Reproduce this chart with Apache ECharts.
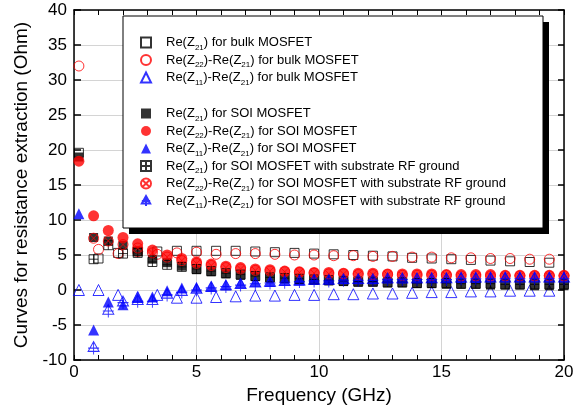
<!DOCTYPE html>
<html>
<head>
<meta charset="utf-8">
<script src="https://cdn.jsdelivr.net/npm/echarts@6/dist/echarts.min.js"></script>
<style>
  html, body { margin: 0; padding: 0; background: #fff; }
  #chart { width: 584px; height: 410px; }
</style>
</head>
<body>
<div id="chart"></div>
<script>
// frequencies (GHz)
const freqBulk = [0.2, 1.0, 1.8, 2.6, 3.4, 4.2, 5.0, 5.8, 6.6, 7.4, 8.2, 9.0, 9.8, 10.6, 11.4, 12.2, 13.0, 13.8, 14.6, 15.4, 16.2, 17.0, 17.8, 18.6, 19.4];
const freqSoi = [0.2, 0.8, 1.4, 2.0, 2.6, 3.2, 3.8, 4.4, 5.0, 5.6, 6.2, 6.8, 7.4, 8.0, 8.6, 9.2, 9.8, 10.4, 11.0, 11.6, 12.2, 12.8, 13.4, 14.0, 14.6, 15.2, 15.8, 16.4, 17.0, 17.6, 18.2, 18.8, 19.4, 20.0];
const freqRf = [0.8, 1.4, 2.0, 2.6, 3.2, 3.8, 4.4, 5.0, 5.6, 6.2, 6.8, 7.4, 8.0, 8.6, 9.2, 9.8, 10.4, 11.0, 11.6, 12.2, 12.8, 13.4, 14.0, 14.6, 15.2, 15.8, 16.4, 17.0, 17.6, 18.2, 18.8, 19.4, 20.0];

// bulk MOSFET (Ohm)
const bulkZ21 = [19.6, 4.5, 5.3, 5.5, 5.5, 5.6, 5.6, 5.6, 5.6, 5.5, 5.4, 5.3, 5.2, 5.1, 5.0, 4.9, 4.8, 4.6, 4.5, 4.4, 4.3, 4.2, 4.1, 4.0, 3.9];
const bulkZ22 = [32.0, 5.8, 5.2, 5.5, 5.1, 5.3, 5.4, 5.1, 5.2, 5.2, 5.1, 5.0, 5.0, 4.9, 4.9, 4.8, 4.8, 4.7, 4.7, 4.6, 4.6, 4.5, 4.5, 4.4, 4.4];
const bulkZ11 = [0.0, 0.0, -0.7, -1.0, -0.7, -1.1, -1.1, -1.0, -0.9, -0.8, -0.8, -0.7, -0.7, -0.6, -0.6, -0.5, -0.5, -0.4, -0.3, -0.3, -0.2, -0.2, -0.1, -0.1, -0.1];

// SOI MOSFET
const soiZ21 = [19.0, 7.5, 7.0, 6.4, 5.5, 4.4, 3.9, 3.4, 2.9, 2.6, 2.3, 2.1, 1.9, 1.7, 1.6, 1.5, 1.4, 1.3, 1.2, 1.1, 1.1, 1.0, 1.0, 0.9, 0.9, 0.8, 0.8, 0.8, 0.7, 0.7, 0.7, 0.6, 0.6, 0.6];
const soiZ22 = [18.4, 10.6, 8.5, 7.5, 6.6, 5.7, 5.0, 4.5, 4.0, 3.7, 3.4, 3.2, 3.0, 2.9, 2.7, 2.6, 2.5, 2.5, 2.4, 2.4, 2.4, 2.3, 2.3, 2.3, 2.3, 2.2, 2.2, 2.2, 2.2, 2.1, 2.1, 2.1, 2.1, 2.1];
const soiZ11 = [10.9, -5.7, -1.7, -2.1, -1.0, -1.0, -0.1, 0.3, 0.4, 0.5, 0.7, 1.0, 1.2, 1.2, 1.4, 1.4, 1.5, 1.5, 1.6, 1.6, 1.6, 1.7, 1.7, 1.7, 1.8, 1.8, 1.8, 1.8, 1.9, 1.9, 1.9, 1.9, 1.9, 1.9];

// SOI MOSFET with substrate RF ground
const rfZ21 = [4.4, 6.4, 5.2, 5.3, 4.0, 3.6, 3.3, 3.0, 2.7, 2.4, 2.2, 2.0, 1.8, 1.7, 1.6, 1.5, 1.4, 1.3, 1.2, 1.2, 1.1, 1.1, 1.0, 1.0, 1.0, 0.9, 0.9, 0.9, 0.8, 0.8, 0.8, 0.8, 0.8];
const rfZ22 = [7.4, 7.0, 6.5, 6.0, 5.3, 4.7, 4.2, 3.8, 3.5, 3.2, 3.0, 2.8, 2.7, 2.6, 2.5, 2.4, 2.3, 2.3, 2.2, 2.2, 2.2, 2.1, 2.1, 2.1, 2.1, 2.0, 2.0, 2.0, 2.0, 2.0, 2.0, 2.0, 2.0];
const rfZ11 = [-8.3, -3.0, -1.8, -1.6, -1.6, -0.7, -0.3, 0.0, 0.3, 0.5, 0.7, 0.9, 1.0, 1.1, 1.2, 1.3, 1.3, 1.4, 1.4, 1.4, 1.5, 1.5, 1.5, 1.5, 1.5, 1.6, 1.6, 1.6, 1.6, 1.6, 1.6, 1.6, 1.6];

const bulkNames = [
  'Re(Z_21) for bulk MOSFET',
  'Re(Z_22)-Re(Z_21) for bulk MOSFET',
  'Re(Z_11)-Re(Z_21) for bulk MOSFET'
];
const soiNames = [
  'Re(Z_21) for SOI MOSFET',
  'Re(Z_22)-Re(Z_21) for SOI MOSFET',
  'Re(Z_11)-Re(Z_21) for SOI MOSFET',
  'Re(Z_21) for SOI MOSFET with substrate RF ground',
  'Re(Z_22)-Re(Z_21) for SOI MOSFET with substrate RF ground',
  'Re(Z_11)-Re(Z_21) for SOI MOSFET with substrate RF ground'
];

const FONT = '"Liberation Sans", Arial, sans-serif';

// marker shapes with a cross inside
const plusSquare = 'path://M0,0H10V10H0Z M5,0V10 M0,5H10';
const crossCircle = 'path://M10,5A5,5,0,1,1,0,5A5,5,0,1,1,10,5Z M1.46,1.46L8.54,8.54 M8.54,1.46L1.46,8.54';
const plusTriangle = 'path://M5,0L10,9H0Z M5,0V12 M0,6H10';

const pairs = (xs, ys) => xs.map((x, i) => [x, ys[i]]);

function scatter(name, xs, ys, symbol, size, color, filled) {
  return {
    name,
    type: 'scatter',
    data: pairs(xs, ys),
    symbol,
    symbolSize: size,
    itemStyle: filled
      ? { color: color }
      : { color: 'rgba(0,0,0,0)', borderColor: color, borderWidth: 1 },
    emphasis: { disabled: true }
  };
}

const chart = echarts.init(document.getElementById('chart'));

// "Z_21" -> Z with subscript 21
const legendText = (name) =>
  '{p|}{a|' + name.replace(/_(\d+)/g, '}{s|$1}{a|') + '}';

const legendCommon = {
  orient: 'vertical',
  left: 140,
  padding: 0,
  itemGap: 2,
  itemWidth: 10,
  itemHeight: 10,
  z: 20,
  selectedMode: false,
  formatter: legendText,
  textStyle: {
    color: '#000',
    fontFamily: FONT,
    rich: {
      p: { width: 10 },
      a: { fontSize: 13, lineHeight: 18, fontFamily: FONT, color: '#000' },
      s: { fontSize: 8, lineHeight: 8, verticalAlign: 'bottom', fontFamily: FONT, color: '#000' }
    }
  }
};

const option = {
  animation: false,
  backgroundColor: '#fff',
  grid: { left: 74, right: 20, top: 10, bottom: 50 },
  graphic: [
    { type: 'rect', z: 15, shape: { x: 129, y: 22, width: 420, height: 212 }, style: { fill: '#000' } },
    { type: 'rect', z: 16, shape: { x: 123, y: 16, width: 420, height: 212 }, style: { fill: '#fff', stroke: '#000', lineWidth: 1 } }
  ],
  legend: [
    Object.assign({}, legendCommon, { top: 36, data: bulkNames }),
    Object.assign({}, legendCommon, { top: 107, data: soiNames })
  ],
  xAxis: [
    {
      type: 'value', min: 0, max: 20, interval: 5, position: 'bottom',
      name: 'Frequency (GHz)', nameLocation: 'middle', nameGap: 20,
      nameTextStyle: { fontSize: 19, fontFamily: FONT, color: '#000' },
      axisLine: { onZero: false, lineStyle: { color: '#000', width: 1.5 } },
      axisTick: { inside: true, length: 5, lineStyle: { color: '#000' } },
      minorTick: { show: true, splitNumber: 5, length: 5, lineStyle: { color: '#000' } },
      splitLine: { show: true, lineStyle: { color: '#d4d4d4', width: 1 } },
      axisLabel: { fontSize: 17, fontFamily: FONT, color: '#000', margin: 4 }
    },
    {
      type: 'value', min: 0, max: 20, interval: 5, position: 'top',
      axisLine: { onZero: false, lineStyle: { color: '#000', width: 1.5 } },
      axisTick: { inside: true, length: 5, lineStyle: { color: '#000' } },
      minorTick: { show: true, splitNumber: 5, length: 5, lineStyle: { color: '#000' } },
      splitLine: { show: false },
      axisLabel: { show: false }
    }
  ],
  yAxis: [
    {
      type: 'value', min: -10, max: 40, interval: 5, position: 'left',
      name: 'Curves for resistance extraction (Ohm)', nameLocation: 'middle', nameGap: 42,
      nameTextStyle: { fontSize: 19, fontFamily: FONT, color: '#000' },
      axisLine: { onZero: false, lineStyle: { color: '#000', width: 1.5 } },
      axisTick: { inside: true, length: 7, lineStyle: { color: '#000', width: 1.5 } },
      splitLine: { show: true, lineStyle: { color: '#d4d4d4', width: 1 } },
      axisLabel: { fontSize: 17, fontFamily: FONT, color: '#000', margin: 7 }
    },
    {
      type: 'value', min: -10, max: 40, interval: 5, position: 'right',
      axisLine: { onZero: false, lineStyle: { color: '#000', width: 1.5 } },
      axisTick: { inside: true, length: 6, lineStyle: { color: '#000', width: 1.5 } },
      splitLine: { show: false },
      axisLabel: { show: false }
    }
  ],
  series: [
    scatter(bulkNames[0], freqBulk, bulkZ21, 'rect', 9, '#000', false),
    scatter(bulkNames[1], freqBulk, bulkZ22, 'circle', 10, '#ff0000', false),
    scatter(bulkNames[2], freqBulk, bulkZ11, 'triangle', 11, '#0000ff', false),
    scatter(soiNames[0], freqSoi, soiZ21, 'rect', 9, '#000', true),
    scatter(soiNames[1], freqSoi, soiZ22, 'circle', 11, '#ff0000', true),
    scatter(soiNames[2], freqSoi, soiZ11, 'triangle', 11, '#0000ff', true),
    scatter(soiNames[3], freqRf, rfZ21, plusSquare, 9, '#000', false),
    scatter(soiNames[4], freqRf, rfZ22, crossCircle, 10, '#ff0000', false),
    scatter(soiNames[5], freqRf, rfZ11, plusTriangle, [11, 13], '#0000ff', false)
  ]
};

chart.setOption(option);
</script>
</body>
</html>
